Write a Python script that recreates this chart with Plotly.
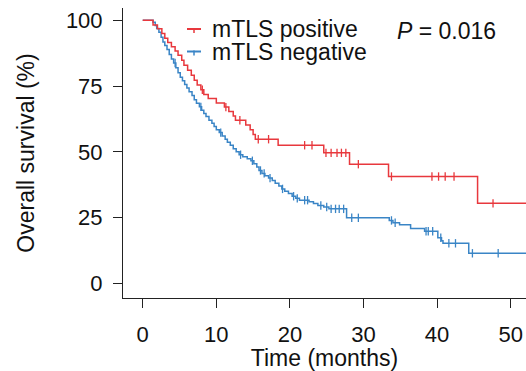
import plotly.graph_objects as go

# ---- data ----
pos_times = [0, 1.4, 2.0, 2.6, 3.0, 3.4, 3.9, 4.4, 4.8, 5.3, 5.6, 6.1, 6.6, 7.0, 7.4, 7.9,
             8.3, 8.9, 10.0, 11.1, 11.7, 12.3, 12.6, 14.0, 14.6, 15.0, 15.3, 18.4, 24.6,
             28.1, 33.4, 45.5, 52.5]
pos_surv = [100, 98.2, 96.8, 95.0, 93.2, 91.6, 90.0, 88.3, 86.7, 84.8, 82.9, 81.0, 79.1,
            77.2, 75.4, 73.6, 71.8, 70.3, 68.6, 67.0, 65.3, 63.6, 62.0, 60.2, 58.4, 56.6,
            54.8, 52.5, 49.6, 45.3, 40.6, 30.4, 30.4]
pos_censor = [8.1, 11.3, 13.2, 15.7, 17.1, 22.0, 23.0, 24.9, 25.6, 26.4, 27.0, 27.6, 29.3,
              33.8, 39.3, 40.2, 41.1, 42.3, 47.6]

neg_times = [0, 1.4, 1.7, 1.9, 2.2, 2.5, 2.75, 3.0, 3.3, 3.6, 3.9, 4.2, 4.5, 4.8, 5.1, 5.4,
             5.7, 6.0, 6.3, 6.7, 7.0, 7.3, 7.7, 8.0, 8.3, 8.6, 9.0, 9.4, 9.7, 10.0, 10.4,
             10.8, 11.2, 11.5, 11.9, 12.3, 12.7, 13.1, 13.6, 14.2, 14.7, 15.1, 15.5, 15.8,
             16.2, 16.6, 17.1, 17.6, 18.0, 18.5, 18.9, 19.3, 19.8, 20.3, 20.8, 21.3, 22.6,
             23.2, 23.8, 24.6, 25.3, 27.7, 33.5, 34.0, 34.9, 36.4, 38.3, 40.1, 40.6, 40.8,
             44.3, 52.5]
neg_surv = [100, 99.3, 98.0, 96.9, 95.5, 93.6, 91.8, 90.4, 88.9, 87.0, 85.3, 83.8, 82.0,
            80.1, 78.4, 77.0, 75.6, 74.3, 72.8, 71.4, 69.8, 68.5, 67.1, 65.8, 64.6, 63.4,
            62.0, 60.9, 59.6, 58.4, 57.3, 56.0, 54.8, 53.6, 52.5, 51.2, 50.0, 48.9, 48.1,
            47.4, 46.6, 45.5, 44.2, 42.9, 41.8, 40.9, 40.0, 39.1, 38.0, 37.0, 35.9, 35.0,
            34.1, 33.1, 32.3, 31.6, 31.0, 30.3, 29.6, 29.0, 28.3, 24.9, 23.9, 23.0, 22.3,
            20.8, 19.8, 17.3, 16.2, 15.2, 11.4, 11.4]
neg_censor = [4.4, 7.9, 10.6, 13.3, 14.9, 16.0, 16.5, 17.3, 19.0, 20.5, 21.0, 22.0, 22.4,
              24.2, 25.0, 25.6, 26.2, 26.7, 27.3, 28.4, 29.3, 33.8, 34.3, 38.5, 38.8, 39.4,
              40.5, 41.6, 42.5, 44.8, 48.3]

x_ticks = [0, 10, 20, 30, 40, 50]
y_ticks = [0, 25, 50, 75, 100]

RED = "#E8383D"
BLUE = "#3A85C6"
FONT = "Liberation Sans, Arial, sans-serif"


def surv_at(times, surv, t):
    s = surv[0]
    for ti, si in zip(times, surv):
        if ti <= t:
            s = si
        else:
            break
    return s


fig = go.Figure()
for times, surv, cens, col, name in [
    (neg_times, neg_surv, neg_censor, BLUE, "mTLS negative"),
    (pos_times, pos_surv, pos_censor, RED, "mTLS positive"),
]:
    fig.add_trace(go.Scatter(x=times, y=surv, mode="lines", line=dict(color=col, width=1.5, shape="hv"),
                             name=name, showlegend=False))
    fig.add_trace(go.Scatter(x=cens, y=[surv_at(times, surv, c) for c in cens], mode="markers",
                             marker=dict(symbol="line-ns", size=6, line=dict(color=col, width=1.3)),
                             showlegend=False, hoverinfo="skip"))

# plot area in pixels: x 123..526, y 8..298
W, H = 526, 371
L, R, T, B = 123, 526, 8, 298


def px(xp):
    return (xp - L) / (R - L)


def py(yp):
    return (B - yp) / (B - T)


legend_items = [("mTLS positive", RED, 29.0), ("mTLS negative", BLUE, 51.5)]
shapes = []
annotations = []
for text, col, yc in legend_items:
    shapes.append(dict(type="line", xref="paper", yref="paper", x0=px(187), x1=px(201), y0=py(yc), y1=py(yc),
                       line=dict(color=col, width=2)))
    shapes.append(dict(type="line", xref="paper", yref="paper", x0=px(194), x1=px(194), y0=py(yc - 1), y1=py(yc + 4),
                       line=dict(color=col, width=1.5)))
    annotations.append(dict(text=text, xref="paper", yref="paper", x=px(210), y=py(yc + 0.5), xanchor="left",
                            yanchor="middle", showarrow=False, font=dict(family=FONT, size=23, color="#111")))
annotations.append(dict(text="<i>P</i> = 0.016", xref="paper", yref="paper", x=px(395), y=py(31),
                        xanchor="left", yanchor="middle", showarrow=False,
                        font=dict(family=FONT, size=23, color="#111")))

fig.update_layout(
    width=W, height=H,
    margin=dict(l=L, r=W - R, t=T, b=H - B, pad=0),
    plot_bgcolor="white", paper_bgcolor="white",
    font=dict(family=FONT, size=22, color="#111"),
    shapes=shapes, annotations=annotations,
    showlegend=False,
)
fig.update_xaxes(range=[-2.68, 52.08], tickvals=x_ticks, showgrid=False, zeroline=False,
                 showline=True, linecolor="#222", linewidth=1, ticks="outside", ticklen=9,
                 tickcolor="#222", tickfont=dict(size=22), ticklabelstandoff=8,
                 title=dict(text="Time (months)", font=dict(size=23), standoff=4))
fig.update_yaxes(range=[-5.6, 104.7], tickvals=y_ticks, showgrid=False, zeroline=False,
                 showline=True, linecolor="#222", linewidth=1, ticks="outside", ticklen=9,
                 tickcolor="#222", tickfont=dict(size=22), ticklabelstandoff=6,
                 title=dict(text="Overall survival (%)", font=dict(size=23), standoff=24))

fig.write_html("out.html", config={"displayModeBar": False},
               post_script="document.body.style.margin='0';document.body.style.overflow='hidden';")
